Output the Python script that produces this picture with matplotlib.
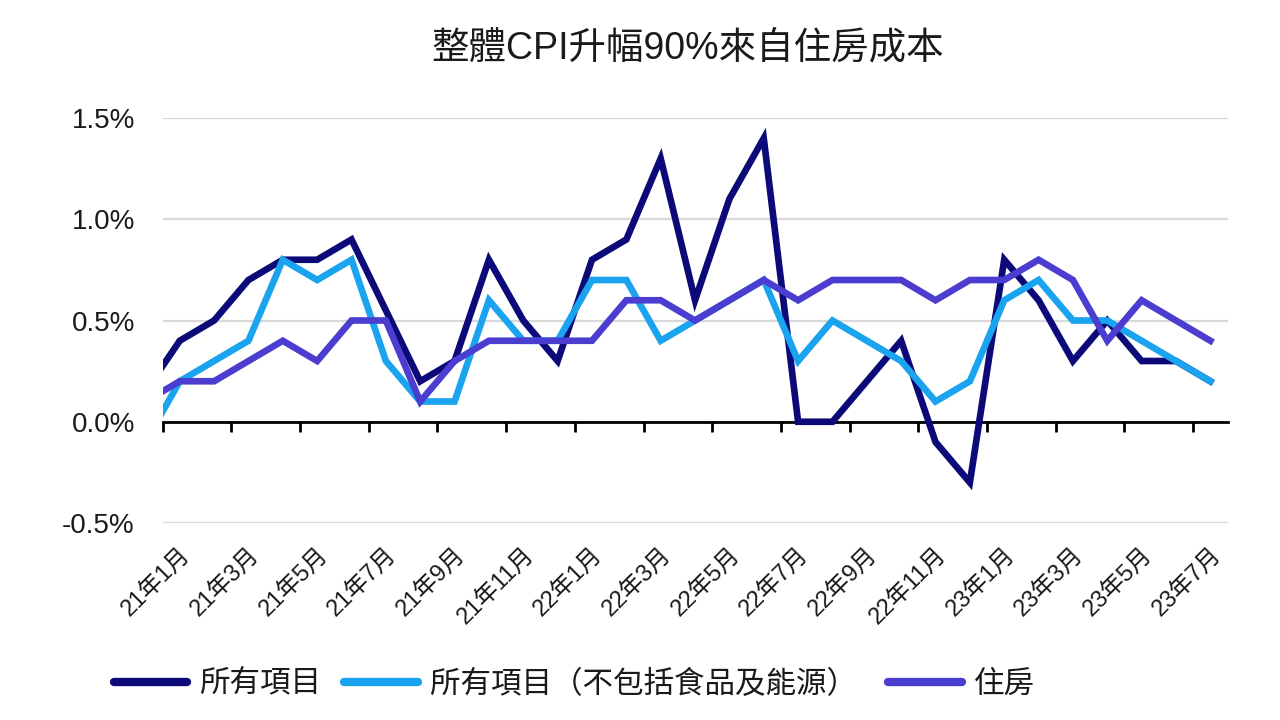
import matplotlib
matplotlib.use("Agg")
import matplotlib.pyplot as plt
import numpy as np

plt.rcParams['font.family'] = ['Liberation Sans', 'Noto Sans CJK TC', 'DejaVu Sans']

# months (first one, 20年12月, only shows as the line entering from the left edge)
months = ['20年12月',
          '21年1月', '21年2月', '21年3月', '21年4月', '21年5月', '21年6月',
          '21年7月', '21年8月', '21年9月', '21年10月', '21年11月', '21年12月',
          '22年1月', '22年2月', '22年3月', '22年4月', '22年5月', '22年6月',
          '22年7月', '22年8月', '22年9月', '22年10月', '22年11月', '22年12月',
          '23年1月', '23年2月', '23年3月', '23年4月', '23年5月', '23年6月',
          '23年7月']

all_items = [0.15,
             0.4, 0.5, 0.7, 0.8, 0.8, 0.9,
             0.55, 0.2, 0.3, 0.8, 0.5, 0.3,
             0.8, 0.9, 1.3, 0.6, 1.1, 1.4,
             0.0, 0.0, 0.2, 0.4, -0.1, -0.3,
             0.8, 0.6, 0.3, 0.5, 0.3, 0.3,
             0.2]
core = [-0.1,
        0.2, 0.3, 0.4, 0.8, 0.7, 0.8,
        0.3, 0.1, 0.1, 0.6, 0.4, 0.4,
        0.7, 0.7, 0.4, 0.5, 0.6, 0.7,
        0.3, 0.5, 0.4, 0.3, 0.1, 0.2,
        0.6, 0.7, 0.5, 0.5, 0.4, 0.3,
        0.2]
housing = [0.1,
           0.2, 0.2, 0.3, 0.4, 0.3, 0.5,
           0.5, 0.1, 0.3, 0.4, 0.4, 0.4,
           0.4, 0.6, 0.6, 0.5, 0.6, 0.7,
           0.6, 0.7, 0.7, 0.7, 0.6, 0.7,
           0.7, 0.8, 0.7, 0.4, 0.6, 0.5,
           0.4]

series_names = ['所有項目', '所有項目（不包括食品及能源） ', '住房']
colors = ['#0b0a78', '#1aa3ef', '#4b3dcf']
yticks = [-0.5, 0.0, 0.5, 1.0, 1.5]

x = np.arange(len(months)) - 1  # 21年1月 -> 0

fig = plt.figure(figsize=(12.8, 7.2), dpi=100)
ax = fig.add_axes([0.127, 0.2736, 0.832, 0.5625])

for vals, name, c in zip([all_items, core, housing], series_names, colors):
    ax.plot(x, vals, color=c, lw=4.8, label=name, solid_joinstyle='miter', zorder=3)

ax.set_xlim(-0.5, len(months) - 1.5)
ax.set_ylim(-0.5, 1.5)

# y axis
ax.set_yticks(yticks)
ax.set_yticklabels([f'{v:.1f}%' for v in yticks])
ax.tick_params(axis='y', length=0, pad=20, labelsize=20, labelcolor='#1a1a1a')
for s in ['left', 'right', 'top']:
    ax.spines[s].set_visible(False)
ax.grid(axis='y', color='#d9d9d9', lw=1.6, zorder=0)
ax.set_axisbelow(True)

# category axis drawn at 0, ticks between categories
ax.spines['bottom'].set_position(('data', 0))
ax.spines['bottom'].set_linewidth(2)
ax.spines['bottom'].set_zorder(2)
ax.set_xticks(np.arange(-0.5, len(months) - 2, 2))
ax.tick_params(axis='x', length=7, width=2, labelbottom=False)

# labels at the bottom, every second month
lab_pos = x[1::2]
lab_txt = months[1::2]
sec = ax.secondary_xaxis(0)
sec.set_xticks(lab_pos)
sec.set_xticklabels(lab_txt, rotation=45, ha='right', rotation_mode='anchor')
sec.tick_params(length=0, pad=15, labelsize=17, labelcolor='#1a1a1a')
sec.spines['bottom'].set_visible(False)

fig.text(0.537, 0.933, '整體CPI升幅90%來自住房成本', ha='center', va='center',
         fontsize=27, color='#1a1a1a')

leg = fig.legend(loc='center left', bbox_to_anchor=(0.077, 0.049), ncol=3,
                 frameon=False, fontsize=22, handlelength=2.4, handletextpad=0.4,
                 columnspacing=0.75, borderpad=0)
for h in leg.get_lines():
    h.set_linewidth(6)
    h.set_solid_capstyle('round')
for t in leg.get_texts():
    t.set_color('#1a1a1a')

fig.savefig('out.png', dpi=100)
